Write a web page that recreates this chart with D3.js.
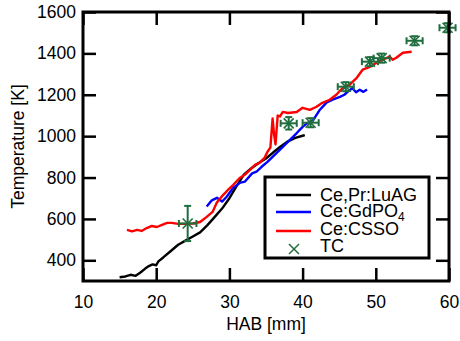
<!DOCTYPE html>
<html><head><meta charset="utf-8">
<script src="https://cdn.jsdelivr.net/npm/d3@7"></script>
<style>body{margin:0;background:#fff}svg{display:block}</style>
</head><body>
<script>
const luagHab = [15.0,15.8,16.5,17.2,17.8,18.5,19.0,19.5,20.0,20.3,21.0,22.0,23.0,24.0,25.0,26.0,27.0,28.0,29.0,30.0,31.0,32.0,33.0,34.0,35.0,36.0,37.0,38.0,39.0,40.0,40.3];
const luagT   = [318,322,330,325,340,360,372,380,376,395,415,445,475,495,515,535,570,610,650,700,760,815,845,870,892,922,950,975,992,1002,1005];

const gdpoHab = [26.9,27.6,28.3,29.0,29.6,30.5,31.4,32.1,33.1,33.7,34.4,35.2,35.9,36.6,37.3,38.2,39.2,40.0,40.7,41.4,42.3,43.3,44.1,45.1,45.7,46.4,46.8,47.3,47.8,48.3,48.8];
const gdpoT   = [660,690,702,684,706,750,774,780,820,828,852,876,900,924,948,980,1015,1045,1064,1075,1125,1163,1176,1190,1200,1222,1232,1212,1224,1214,1226];

const cssoHab = [16.0,16.7,17.4,18.0,18.7,19.4,20.1,20.8,21.5,22.1,23.0,24.2,25.0,26.0,26.9,27.7,28.3,29.1,29.8,30.5,31.4,32.1,32.8,33.5,34.1,34.8,35.2,35.6,35.9,36.1,36.3,36.6,36.9,37.3,38.0,39.2,40.0,41.0,41.9,42.7,43.7,44.6,45.5,46.4,47.4,48.2,49.2,50.1,50.9,51.9,52.3,52.8,53.7,54.9];
const cssoT   = [547,540,547,542,556,566,561,571,581,581,576,576,578,585,610,634,680,714,740,764,798,813,837,861,871,895,924,945,1085,1010,960,1100,1095,1117,1112,1117,1137,1127,1142,1161,1176,1200,1234,1248,1282,1321,1335,1355,1369,1384,1369,1379,1403,1408];

const tcHab    = [24.3,38.1,41.1,45.9,49.2,50.8,55.3,59.8];
const tcT      = [578,1062,1065,1239,1360,1377,1461,1524];
const tcHabErr = [1.2,1.1,1.1,1.1,1.1,1.1,1.1,1.1];
const tcTErr   = [85,30,22,22,22,22,22,22];

const xTicks = [10,20,30,40,50,60];
const yTicks = [400,600,800,1000,1200,1400,1600];

(function(){
const W = 460, H = 341;
const m = {l:83, r:449, t:12, b:281};
const green = "#1e6e3e";
const font = "'Liberation Sans', Arial, sans-serif";

const svg = d3.select("body").append("svg").attr("width",W).attr("height",H);
const x = d3.scaleLinear().domain([10,60]).range([m.l,m.r]);
const y = d3.scaleLinear().domain([300,1600]).range([m.b,m.t]);

const line = d3.line().x(d=>x(d[0])).y(d=>y(d[1]));
const series = [
  {hab:luagHab, t:luagT, c:"#000000"},
  {hab:gdpoHab, t:gdpoT, c:"#0000ff"},
  {hab:cssoHab, t:cssoT, c:"#ff0000"}
];
series.forEach(s=>{
  svg.append("path").datum(s.hab.map((h,i)=>[h,s.t[i]]))
    .attr("d",line).attr("fill","none").attr("stroke",s.c)
    .attr("stroke-width",2.4).attr("stroke-linejoin","round");
});

const tc = tcHab.map((h,i)=>({h, t:tcT[i], eh:tcHabErr[i], et:tcTErr[i]}));
const g = svg.append("g").attr("stroke",green).attr("stroke-width",2).attr("fill","none");
const cap = 3.5, ms = 5;
tc.forEach(d=>{
  const cx = x(d.h), cy = y(d.t);
  const x0 = x(d.h-d.eh), x1 = x(d.h+d.eh), y0 = y(d.t-d.et), y1 = y(d.t+d.et);
  g.append("line").attr("x1",x0).attr("x2",x1).attr("y1",cy).attr("y2",cy);
  g.append("line").attr("x1",x0).attr("x2",x0).attr("y1",cy-cap).attr("y2",cy+cap);
  g.append("line").attr("x1",x1).attr("x2",x1).attr("y1",cy-cap).attr("y2",cy+cap);
  g.append("line").attr("x1",cx).attr("x2",cx).attr("y1",y0).attr("y2",y1);
  g.append("line").attr("x1",cx-cap).attr("x2",cx+cap).attr("y1",y0).attr("y2",y0);
  g.append("line").attr("x1",cx-cap).attr("x2",cx+cap).attr("y1",y1).attr("y2",y1);
  g.append("line").attr("x1",cx-ms).attr("x2",cx+ms).attr("y1",cy-ms).attr("y2",cy+ms).attr("stroke-width",1.6);
  g.append("line").attr("x1",cx-ms).attr("x2",cx+ms).attr("y1",cy+ms).attr("y2",cy-ms).attr("stroke-width",1.6);
});

const tl = 13;
const fmt = d3.format("d");
const axB = svg.append("g").attr("transform",`translate(0,${m.b})`)
  .call(d3.axisBottom(x).tickValues(xTicks).tickSize(-tl).tickPadding(15).tickFormat(fmt));
const axT = svg.append("g").attr("transform",`translate(0,${m.t})`)
  .call(d3.axisTop(x).tickValues(xTicks).tickSize(-tl).tickFormat(""));
const axL = svg.append("g").attr("transform",`translate(${m.l},0)`)
  .call(d3.axisLeft(y).tickValues(yTicks).tickSize(-tl).tickPadding(7).tickFormat(fmt));
const axR = svg.append("g").attr("transform",`translate(${m.r},0)`)
  .call(d3.axisRight(y).tickValues(yTicks).tickSize(-tl).tickFormat(""));
[axB,axT,axL,axR].forEach(a=>{
  a.select(".domain").remove();
  a.selectAll(".tick line").attr("stroke","#000").attr("stroke-width",2.5);
  a.selectAll(".tick text").attr("font-family",font).attr("font-size",17.5).attr("fill","#000");
});
svg.append("rect").attr("x",m.l).attr("y",m.t).attr("width",m.r-m.l).attr("height",m.b-m.t)
  .attr("fill","none").attr("stroke","#000").attr("stroke-width",3);

svg.append("text").attr("x",(m.l+m.r)/2).attr("y",330).attr("text-anchor","middle")
  .attr("font-family",font).attr("font-size",17.5).text("HAB [mm]");
svg.append("text").attr("transform",`translate(24,${(m.t+m.b)/2}) rotate(-90)`).attr("text-anchor","middle")
  .attr("font-family",font).attr("font-size",17.5).text("Temperature [K]");

const lg = svg.append("g");
lg.append("rect").attr("x",265).attr("y",177).attr("width",164).attr("height",81)
  .attr("fill","#fff").attr("stroke","#000").attr("stroke-width",3);
const legendItems = [
  {label:"Ce,Pr:LuAG", c:"#000000", type:"line"},
  {label:"Ce:GdPO", sub:"4", c:"#0000ff", type:"line"},
  {label:"Ce:CSSO", c:"#ff0000", type:"line"},
  {label:"TC", c:green, type:"x"}
];
const symY = [195, 212, 231, 249];
const txtY = [201, 217, 235, 252];
legendItems.forEach((d,i)=>{
  const cy = symY[i];
  if(d.type==="line"){
    lg.append("line").attr("x1",276).attr("x2",311).attr("y1",cy).attr("y2",cy)
      .attr("stroke",d.c).attr("stroke-width",2.4);
  } else {
    const cx = 294, s = 5;
    lg.append("line").attr("x1",cx-s).attr("x2",cx+s).attr("y1",cy-s).attr("y2",cy+s).attr("stroke",d.c).attr("stroke-width",1.5);
    lg.append("line").attr("x1",cx-s).attr("x2",cx+s).attr("y1",cy+s).attr("y2",cy-s).attr("stroke",d.c).attr("stroke-width",1.5);
  }
  const t = lg.append("text").attr("x",320).attr("y",txtY[i]).attr("font-family",font).attr("font-size",18).text(d.label);
  if(d.sub) t.append("tspan").attr("font-size",12).attr("dy",4).text(d.sub);
});
})();
</script>
</body></html>
